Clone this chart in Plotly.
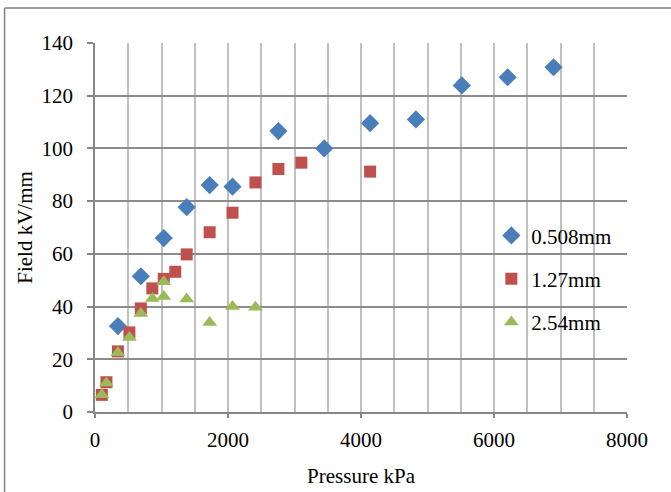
import plotly.graph_objects as go

# 0.508 mm gap
p_0508 = [345, 689, 1034, 1379, 1724, 2068, 2758, 3447, 4137, 4826, 5516, 6205, 6895]
f_0508 = [32.6, 51.5, 66.0, 77.7, 86.1, 85.5, 106.6, 100.0, 109.6, 111.0, 123.9, 127.0, 130.8]

# 1.27 mm gap
p_127 = [103, 172, 345, 517, 689, 862, 1034, 1207, 1379, 1724, 2068, 2413, 2758, 3103, 4137]
f_127 = [6.5, 11.3, 23.0, 30.2, 39.3, 46.9, 50.5, 53.2, 59.8, 68.2, 75.6, 87.1, 92.2, 94.6, 91.2]

# 2.54 mm gap
p_254 = [103, 172, 345, 517, 689, 862, 1034, 1034, 1379, 1724, 2068, 2413]
f_254 = [6.5, 11.0, 22.5, 28.3, 37.4, 43.1, 43.8, 49.4, 42.9, 34.0, 40.0, 39.7]

series_names = ["0.508mm", "1.27mm", "2.54mm"]

FONT = "Liberation Serif"
FS = 21

fig = go.Figure()
fig.add_trace(go.Scatter(x=p_0508, y=f_0508, mode="markers", name=series_names[0],
                         legendgroup="a",
                         marker=dict(symbol="diamond", size=14, color="#4a7ebb")))
fig.add_trace(go.Scatter(x=p_127, y=f_127, mode="markers", name=series_names[1],
                         legendgroup="b",
                         marker=dict(symbol="square", size=12, color="#c0504d")))
fig.add_trace(go.Scatter(x=p_254, y=f_254, mode="markers", name=series_names[2],
                         legendgroup="c",
                         marker=dict(symbol="triangle-up", size=13, color="#9bbb59")))

frame = dict(color="#7f7f7f", width=1.5)
fig.update_layout(
    width=671, height=492,
    margin=dict(l=94.5, r=44, t=43, b=80),
    paper_bgcolor="white", plot_bgcolor="white",
    font=dict(family=FONT, size=FS, color="black"),
    showlegend=True,
    legend=dict(x=0.745, y=0.533, xanchor="left", yanchor="top",
                tracegroupgap=13, bgcolor="rgba(0,0,0,0)",
                font=dict(family=FONT, size=FS)),
    xaxis=dict(range=[0, 8000], dtick=2000, tick0=0, automargin=False,
               showgrid=True, gridcolor="#c0c0c0", gridwidth=1.5,
               minor=dict(dtick=500, showgrid=True, gridcolor="#c0c0c0", gridwidth=1.5),
               showline=True, linecolor="#868686", linewidth=1.5,
               ticks="outside", ticklen=4, tickcolor="#868686", tickwidth=1.5,
               tickfont=dict(family=FONT, size=FS, color="black"),
               ticklabelstandoff=4,
               zeroline=False,
               title=dict(text="Pressure kPa", font=dict(family=FONT, size=FS), standoff=17)),
    yaxis=dict(range=[0, 140], dtick=20, tick0=0, automargin=False,
               showgrid=True, gridcolor="#8c8c8c", gridwidth=1.5,
               showline=True, linecolor="#868686", linewidth=1.5,
               ticks="outside", ticklen=6, tickcolor="#868686", tickwidth=1.5,
               tickfont=dict(family=FONT, size=FS, color="black"),
               ticklabelstandoff=10,
               zeroline=False,
               title=dict(text="Field kV/mm", font=dict(family=FONT, size=FS), standoff=3)),
    shapes=[
        dict(type="line", xref="paper", yref="paper",
             x0=-0.170, x1=1.3, y0=1.095, y1=1.095, line=frame),
        dict(type="line", xref="paper", yref="paper",
             x0=-0.170, x1=-0.170, y0=-0.4, y1=1.095, line=frame),
    ],
)

fig.write_html("out.html", config={"displayModeBar": False},
               post_script="document.body.style.margin='0';")
